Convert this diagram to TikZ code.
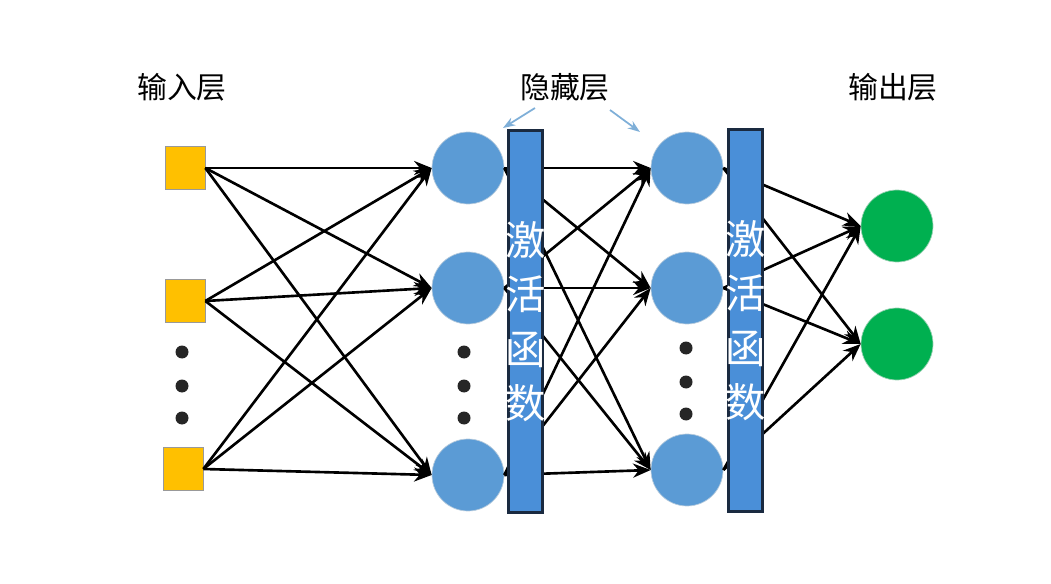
\documentclass[tikz,border=0pt]{standalone}
\usepackage{fontspec}
\newfontfamily\cjk{Noto Sans CJK SC}
\usetikzlibrary{arrows.meta}
\definecolor{inorange}{HTML}{FFC000}
\definecolor{hblue}{HTML}{5B9BD5}
\definecolor{barblue}{HTML}{4A8FD8}
\definecolor{bardark}{HTML}{1A2A40}
\definecolor{ogreen}{HTML}{00B050}
\definecolor{pointer}{HTML}{7FAFD8}
\begin{document}
\begin{tikzpicture}[x=0.02cm,y=-0.02cm,
  inbox/.style={draw=gray!80,fill=inorange,minimum width=0.8cm,minimum height=0.86cm,inner sep=0},
  hnode/.style={circle,fill=hblue,draw=hblue!80!black!40,minimum size=1.44cm,inner sep=0},
  onode/.style={circle,fill=ogreen,draw=ogreen!80!black!40,minimum size=1.44cm,inner sep=0},
  bar/.style={draw=bardark,line width=1.2pt,fill=barblue,minimum width=0.68cm,minimum height=7.64cm,inner sep=0},
  conn/.style={-{Stealth[length=10pt,width=8pt]},line width=1.5pt,black},
  dot/.style={circle,fill=black!85,minimum width=0.26cm,minimum height=0.2cm,inner sep=0},
  lbl/.style={font=\cjk\fontsize{17}{20}\selectfont},
  bartext/.style={text=white,font=\cjk\fontsize{23}{31}\selectfont,align=center}]
\useasboundingbox (0,0) rectangle (1051,584);
\node[inbox] (i1) at (185,168) {};
\node[inbox] (i2) at (185,301) {};
\node[inbox] (i3) at (183,469) {};
\node[hnode] (a1) at (468,168) {};
\node[hnode] (a2) at (468,288) {};
\node[hnode] (a3) at (468,475) {};
\node[hnode] (b1) at (687,168) {};
\node[hnode] (b2) at (687,288) {};
\node[hnode] (b3) at (687,470) {};
\node[onode] (o1) at (897,226) {};
\node[onode] (o2) at (897,344) {};
\foreach \y/\n in {352/p1,386/p2,418/p3} {\node[dot] (d\n) at (182,\y) {}; \node[dot] (e\n) at (464,\y) {};}
\foreach \y/\n in {348/p1,382/p2,414/p3} {\node[dot] (f\n) at (686,\y) {};}
\foreach \s in {i1,i2,i3} \foreach \t in {a1,a2,a3} \draw[conn] (\s.east) -- (\t.west);
\foreach \s in {a1,a2,a3} \foreach \t in {b1,b2,b3} \draw[conn] (\s.east) -- (\t.west);
\foreach \s in {b1,b2,b3} \foreach \t in {o1,o2} \draw[conn] (\s.east) -- (\t.west);
\node[bar] (bar1) at (525.5,321.5) {};
\node[bar] (bar2) at (745.5,320.5) {};
\node[bartext] at (bar1) {激\\活\\函\\数};
\node[bartext] at (bar2) {激\\活\\函\\数};
\node[lbl] (l1) at (182,87) {输入层};
\node[lbl] (l2) at (565,87) {隐藏层};
\node[lbl] (l3) at (893,87) {输出层};
\coordinate (q1) at (503,128);
\coordinate (q2) at (640,132);
\draw[-{Stealth[length=7pt,width=5pt]},pointer,line width=1pt] (535,108) -- (q1);
\draw[-{Stealth[length=7pt,width=5pt]},pointer,line width=1pt] (610,110) -- (q2);
\end{tikzpicture}
\end{document}
